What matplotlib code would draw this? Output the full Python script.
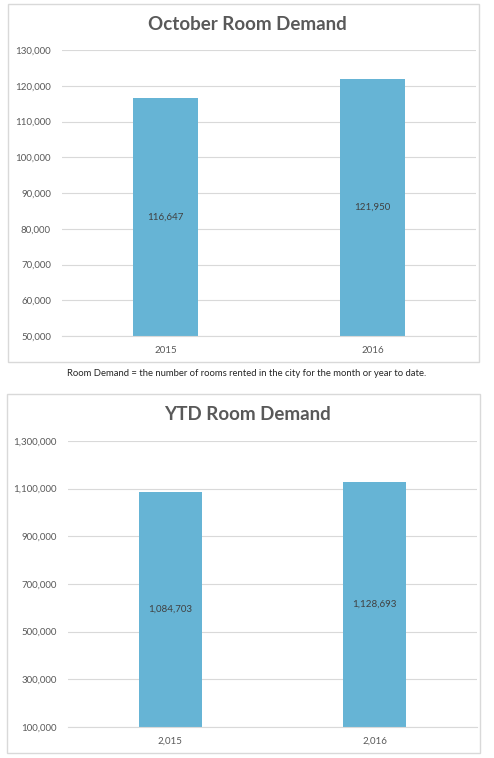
import matplotlib.pyplot as plt
from matplotlib.patches import Rectangle
from matplotlib.ticker import FuncFormatter

W, H = 494, 758

# data
oct_years = ['2015', '2016']
oct_demand = [116647, 121950]
ytd_years = ['2,015', '2,016']
ytd_demand = [1084703, 1128693]

bar_col = '#66b4d5'
grid_col = '#d9d9d9'
txt_col = '#595959'
plt.rcParams['font.family'] = ['Lato', 'DejaVu Sans']

fig = plt.figure(figsize=(W/100, H/100), dpi=100)

def px(x0, y0, x1, y1):
    # pixel box (top-left origin) -> figure fraction
    return [x0/W, 1-y1/H, (x1-x0)/W, (y1-y0)/H]

# panel borders
for (x0, y0, x1, y1) in [(8, 4, 479, 362), (7, 394, 480, 753)]:
    fig.patches.append(Rectangle((x0/W, 1-y1/H), (x1-x0)/W, (y1-y0)/H,
                                 transform=fig.transFigure, fill=False,
                                 edgecolor=grid_col, lw=1))

def panel(ax, cats, vals, lo, hi, step, title, ty):
    x = range(len(cats))
    bars = ax.bar(x, [v-lo for v in vals], bottom=lo, width=0.31,
                  color=bar_col, zorder=2)
    ax.set_xlim(-0.5, len(cats)-0.5)
    ax.set_ylim(lo, hi)
    ax.set_yticks(range(lo, hi+1, step))
    ax.yaxis.set_major_formatter(FuncFormatter(lambda v, p: f'{int(v):,}'))
    ax.set_xticks(list(x))
    ax.set_xticklabels(cats)
    ax.grid(axis='y', color=grid_col, lw=0.8, zorder=0)
    for s in ax.spines.values():
        s.set_visible(False)
    ax.spines['bottom'].set_visible(True)
    ax.spines['bottom'].set_color(grid_col)
    ax.tick_params(length=0, labelsize=7, labelcolor=txt_col)
    ax.tick_params(axis='y', pad=8)
    ax.tick_params(axis='x', pad=7)
    for b, v in zip(bars, vals):
        ax.text(b.get_x()+b.get_width()/2, (lo+v)/2, f'{v:,}',
                ha='center', va='center', fontsize=7, color='#404040')
    fig.text(247.5/W, 1-ty/H, title, ha='center', va='center',
             fontsize=13.5, fontweight='bold', color=txt_col)

ax1 = fig.add_axes(px(62, 50, 476, 336))
panel(ax1, oct_years, oct_demand, 50000, 130000, 10000, 'October Room Demand', 25)

fig.text(247/W, 1-374/H,
         'Room Demand = the number of rooms rented in the city for the month or year to date.',
         ha='center', va='center', fontsize=6.8, color='#262626')

ax2 = fig.add_axes(px(68, 441, 477, 727))
panel(ax2, ytd_years, ytd_demand, 100000, 1300000, 200000, 'YTD Room Demand', 415)

fig.savefig('out.png', dpi=100)
